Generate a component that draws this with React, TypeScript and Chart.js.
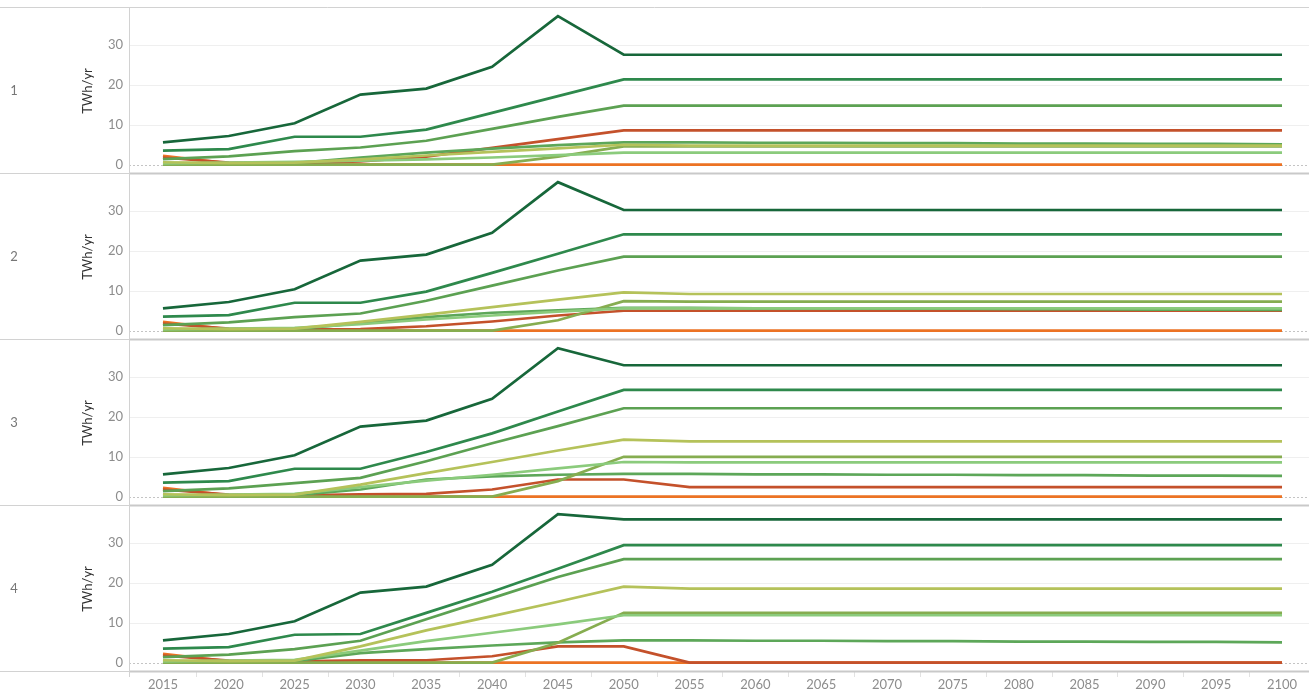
import React, { useEffect, useRef } from 'react';
import { Chart, registerables } from 'chart.js';

Chart.register(...registerables);

// ---------- data ----------
const years = [2015, 2020, 2025, 2030, 2035, 2040, 2045, 2050, 2055, 2060, 2065, 2070, 2075, 2080, 2085, 2090, 2095, 2100];
const yTickValues = [0, 10, 20, 30];
const panelLabels = ['1', '2', '3', '4'];
const axisTitle = 'TWh/yr';

// panel 1
const darkGreen1 = [5.6, 7.2, 10.4, 17.6, 19.1, 24.6, 37.3, 27.6, 27.6, 27.6, 27.6, 27.6, 27.6, 27.6, 27.6, 27.6, 27.6, 27.6];
const green2_1 = [3.5, 3.9, 7.0, 7.0, 8.8, 13.0, 17.2, 21.4, 21.4, 21.4, 21.4, 21.4, 21.4, 21.4, 21.4, 21.4, 21.4, 21.4];
const green3_1 = [1.4, 2.1, 3.4, 4.3, 6.0, 9.0, 12.0, 14.8, 14.8, 14.8, 14.8, 14.8, 14.8, 14.8, 14.8, 14.8, 14.8, 14.8];
const yellow_1 = [0.6, 0.4, 0.5, 1.3, 2.3, 3.2, 4.1, 5.0, 4.8, 4.8, 4.8, 4.8, 4.8, 4.8, 4.8, 4.8, 4.8, 4.8];
const lightGreen_1 = [0.3, 0.5, 0.7, 1.0, 1.3, 1.8, 2.4, 3.0, 3.0, 3.0, 3.0, 3.0, 3.0, 3.0, 3.0, 3.0, 3.0, 3.0];
const olive_1 = [0, 0, 0, 0, 0, 0, 2.0, 4.6, 4.6, 4.6, 4.6, 4.6, 4.6, 4.6, 4.6, 4.6, 4.6, 4.6];
const green4_1 = [0.2, 0.2, 0.4, 1.8, 3.0, 4.0, 4.9, 5.6, 5.6, 5.5, 5.5, 5.4, 5.4, 5.3, 5.3, 5.2, 5.2, 5.1];
const red_1 = [1.8, 0.5, 0.3, 0.8, 2.0, 4.2, 6.4, 8.6, 8.6, 8.6, 8.6, 8.6, 8.6, 8.6, 8.6, 8.6, 8.6, 8.6];
const orange_1 = [2.2, 0.3, 0, 0, 0, 0, 0, 0, 0, 0, 0, 0, 0, 0, 0, 0, 0, 0];

// panel 2
const darkGreen2 = [5.6, 7.2, 10.4, 17.6, 19.1, 24.6, 37.3, 30.3, 30.3, 30.3, 30.3, 30.3, 30.3, 30.3, 30.3, 30.3, 30.3, 30.3];
const green2_2 = [3.5, 3.9, 7.0, 7.0, 9.8, 14.5, 19.3, 24.2, 24.2, 24.2, 24.2, 24.2, 24.2, 24.2, 24.2, 24.2, 24.2, 24.2];
const green3_2 = [1.4, 2.1, 3.4, 4.3, 7.5, 11.3, 15.1, 18.6, 18.6, 18.6, 18.6, 18.6, 18.6, 18.6, 18.6, 18.6, 18.6, 18.6];
const yellow_2 = [0.6, 0.4, 0.5, 2.2, 4.0, 5.9, 7.8, 9.6, 9.2, 9.2, 9.2, 9.2, 9.2, 9.2, 9.2, 9.2, 9.2, 9.2];
const lightGreen_2 = [0.3, 0.5, 0.7, 1.6, 2.8, 3.8, 4.8, 5.6, 5.6, 5.6, 5.6, 5.6, 5.6, 5.6, 5.6, 5.6, 5.6, 5.6];
const olive_2 = [0, 0, 0, 0, 0, 0, 2.6, 7.4, 7.3, 7.3, 7.3, 7.3, 7.3, 7.3, 7.3, 7.3, 7.3, 7.3];
const green4_2 = [0.2, 0.2, 0.4, 1.9, 3.4, 4.5, 5.1, 5.7, 5.7, 5.6, 5.6, 5.5, 5.5, 5.4, 5.4, 5.3, 5.3, 5.2];
const red_2 = [1.8, 0.5, 0.3, 0.4, 1.1, 2.3, 3.8, 5.0, 5.0, 5.0, 5.0, 5.0, 5.0, 5.0, 5.0, 5.0, 5.0, 5.0];
const orange_2 = [2.2, 0.3, 0, 0, 0, 0, 0, 0, 0, 0, 0, 0, 0, 0, 0, 0, 0, 0];

// panel 3
const darkGreen3 = [5.6, 7.2, 10.4, 17.6, 19.1, 24.6, 37.3, 33.0, 33.0, 33.0, 33.0, 33.0, 33.0, 33.0, 33.0, 33.0, 33.0, 33.0];
const green2_3 = [3.5, 3.9, 7.0, 7.0, 11.2, 15.9, 21.4, 26.8, 26.8, 26.8, 26.8, 26.8, 26.8, 26.8, 26.8, 26.8, 26.8, 26.8];
const green3_3 = [1.4, 2.1, 3.4, 4.7, 8.9, 13.4, 17.7, 22.2, 22.2, 22.2, 22.2, 22.2, 22.2, 22.2, 22.2, 22.2, 22.2, 22.2];
const yellow_3 = [0.6, 0.4, 0.5, 3.0, 5.9, 8.7, 11.6, 14.3, 13.9, 13.9, 13.9, 13.9, 13.9, 13.9, 13.9, 13.9, 13.9, 13.9];
const lightGreen_3 = [0.3, 0.5, 0.7, 2.4, 4.0, 5.5, 7.1, 8.7, 8.6, 8.6, 8.6, 8.6, 8.6, 8.6, 8.6, 8.6, 8.6, 8.6];
const olive_3 = [0, 0, 0, 0, 0, 0, 3.9, 10.0, 10.0, 10.0, 10.0, 10.0, 10.0, 10.0, 10.0, 10.0, 10.0, 10.0];
const green4_3 = [0.2, 0.2, 0.4, 1.8, 4.3, 5.1, 5.5, 5.7, 5.7, 5.6, 5.6, 5.5, 5.5, 5.4, 5.4, 5.3, 5.3, 5.2];
const red_3 = [1.8, 0.5, 0.3, 0.6, 0.7, 1.8, 4.3, 4.3, 2.4, 2.4, 2.4, 2.4, 2.4, 2.4, 2.4, 2.4, 2.4, 2.4];
const orange_3 = [2.2, 0.3, 0, 0, 0, 0, 0, 0, 0, 0, 0, 0, 0, 0, 0, 0, 0, 0];

// panel 4
const darkGreen4 = [5.6, 7.2, 10.4, 17.6, 19.1, 24.6, 37.3, 36.0, 36.0, 36.0, 36.0, 36.0, 36.0, 36.0, 36.0, 36.0, 36.0, 36.0];
const green2_4 = [3.5, 3.9, 7.0, 7.2, 12.5, 17.8, 23.6, 29.5, 29.5, 29.5, 29.5, 29.5, 29.5, 29.5, 29.5, 29.5, 29.5, 29.5];
const green3_4 = [1.4, 2.0, 3.4, 5.5, 10.9, 16.2, 21.5, 26.0, 26.0, 26.0, 26.0, 26.0, 26.0, 26.0, 26.0, 26.0, 26.0, 26.0];
const yellow_4 = [0.6, 0.4, 0.5, 4.1, 8.1, 11.7, 15.3, 19.1, 18.6, 18.6, 18.6, 18.6, 18.6, 18.6, 18.6, 18.6, 18.6, 18.6];
const lightGreen_4 = [0.3, 0.5, 0.7, 3.0, 5.4, 7.5, 9.6, 11.9, 11.9, 11.9, 11.9, 11.9, 11.9, 11.9, 11.9, 11.9, 11.9, 11.9];
const olive_4 = [0, 0, 0, 0, 0, 0, 5.0, 12.5, 12.5, 12.5, 12.5, 12.5, 12.5, 12.5, 12.5, 12.5, 12.5, 12.5];
const green4_4 = [0.2, 0.2, 0.4, 2.4, 3.4, 4.3, 5.1, 5.6, 5.6, 5.5, 5.5, 5.4, 5.4, 5.3, 5.3, 5.2, 5.2, 5.1];
const red_4 = [1.8, 0.5, 0.3, 0.6, 0.6, 1.6, 4.1, 4.1, 0, 0, 0, 0, 0, 0, 0, 0, 0, 0];
const orange_4 = [2.2, 0.3, 0, 0, 0, 0, 0, 0, 0, 0, 0, 0, 0, 0, 0, 0, 0, 0];

// series colours (drawing order: first drawn on top)
const seriesColors = ['#17673a', '#2e894c', '#5ca152', '#b5c25a', '#8bcb7c', '#86ad50', '#5da759', '#c4512b', '#ec7324'];

const panels = [
  [darkGreen1, green2_1, green3_1, yellow_1, lightGreen_1, olive_1, green4_1, red_1, orange_1],
  [darkGreen2, green2_2, green3_2, yellow_2, lightGreen_2, olive_2, green4_2, red_2, orange_2],
  [darkGreen3, green2_3, green3_3, yellow_3, lightGreen_3, olive_3, green4_3, red_3, orange_3],
  [darkGreen4, green2_4, green3_4, yellow_4, lightGreen_4, olive_4, green4_4, red_4, orange_4],
];

const W = 1309;
const H = 693;
const AXIS_W = 129;
const TOP = 7;
const XAXIS_H = 22;
const FONT = 'Lato, "Open Sans", sans-serif';

export default function App() {
  const ref = useRef<HTMLCanvasElement>(null);

  useEffect(() => {
    if (!ref.current) return;
    const datasets: any[] = [];
    panels.forEach((series, p) => {
      series.forEach((vals, k) => {
        datasets.push({
          data: years.map((x, i) => ({ x, y: vals[i] })),
          borderColor: seriesColors[k],
          backgroundColor: seriesColors[k],
          borderWidth: 2.7,
          pointRadius: 0,
          tension: 0,
          fill: false,
          xAxisID: 'x',
          yAxisID: 'y' + p,
        });
      });
    });

    const yScale = () => ({
      type: 'linear',
      position: 'left',
      stack: 'rows',
      stackWeight: 1,
      min: -2.1,
      max: 39.6,
      afterBuildTicks: (s: any) => {
        s.ticks = yTickValues.map((v) => ({ value: v }));
      },
      afterFit: (s: any) => {
        s.width = AXIS_W;
        s.paddingTop = 0;
        s.paddingBottom = 0;
      },
      grid: { display: false, drawTicks: false },
      border: { display: false },
      ticks: {
        color: '#8d8d8d',
        font: { family: FONT, size: 13 },
        padding: 6,
        callback: (v: any) => String(v),
      },
    });

    const decor = {
      id: 'decor',
      beforeDatasetsDraw(chart: any) {
        const ctx = chart.ctx;
        const area = chart.chartArea;
        ctx.save();
        for (let p = 0; p < 4; p++) {
          const ys = chart.scales['y' + p];
          ctx.strokeStyle = '#efefef';
          ctx.lineWidth = 1;
          ctx.setLineDash([]);
          for (const v of [10, 20, 30]) {
            const y = Math.round(ys.getPixelForValue(v)) + 0.5;
            ctx.beginPath();
            ctx.moveTo(area.left, y);
            ctx.lineTo(area.right, y);
            ctx.stroke();
          }
          const y0 = Math.round(ys.getPixelForValue(0)) + 0.5;
          ctx.strokeStyle = '#c4c4c4';
          ctx.setLineDash([2, 2]);
          ctx.beginPath();
          ctx.moveTo(area.left, y0);
          ctx.lineTo(area.right, y0);
          ctx.stroke();
          ctx.setLineDash([]);
        }
        ctx.strokeStyle = '#d2d2d2';
        ctx.lineWidth = 1;
        ctx.beginPath();
        ctx.moveTo(0, area.top + 0.5);
        ctx.lineTo(W, area.top + 0.5);
        ctx.stroke();
        for (let p = 0; p < 4; p++) {
          const ys = chart.scales['y' + p];
          const yb = Math.round(ys.bottom);
          ctx.beginPath();
          ctx.moveTo(0, yb + 0.5);
          ctx.lineTo(area.left, yb + 0.5);
          ctx.stroke();
        }
        ctx.beginPath();
        ctx.moveTo(area.left + 0.5, area.top);
        ctx.lineTo(area.left + 0.5, area.bottom + 6);
        ctx.stroke();
        const xs = chart.scales.x;
        ctx.strokeStyle = '#e2e2e2';
        for (let i = 0; i < years.length - 1; i++) {
          const x = Math.round(xs.getPixelForValue((years[i] + years[i + 1]) / 2)) + 0.5;
          ctx.beginPath();
          ctx.moveTo(x, area.bottom);
          ctx.lineTo(x, area.bottom + 6);
          ctx.stroke();
        }
        ctx.restore();
      },
      afterDatasetsDraw(chart: any) {
        const ctx = chart.ctx;
        const area = chart.chartArea;
        ctx.save();
        for (let p = 0; p < 4; p++) {
          const ys = chart.scales['y' + p];
          const yb = Math.round(ys.bottom);
          ctx.fillStyle = '#c9c9c9';
          ctx.fillRect(area.left + 1, yb - 0.5, area.right - area.left, 2);
        }
        ctx.restore();
      },
      afterDraw(chart: any) {
        const ctx = chart.ctx;
        ctx.save();
        for (let p = 0; p < 4; p++) {
          const ys = chart.scales['y' + p];
          const cy = (ys.top + ys.bottom) / 2 + 1;
          ctx.font = '13px ' + FONT;
          ctx.fillStyle = '#777777';
          ctx.textAlign = 'center';
          ctx.textBaseline = 'middle';
          ctx.fillText(panelLabels[p], 14, cy);
          ctx.save();
          ctx.translate(88, cy);
          ctx.rotate(-Math.PI / 2);
          ctx.fillStyle = '#333333';
          ctx.fillText(axisTitle, 0, 0);
          ctx.restore();
        }
        ctx.restore();
      },
    };

    const scales: any = {
      x: {
        type: 'linear',
        position: 'bottom',
        min: 2012.42,
        max: 2102.05,
        afterBuildTicks: (s: any) => {
          s.ticks = years.map((v) => ({ value: v }));
        },
        afterFit: (s: any) => {
          s.height = XAXIS_H;
          s.paddingLeft = 0;
          s.paddingRight = 0;
        },
        grid: { display: false, drawTicks: false },
        border: { display: false },
        ticks: {
          color: '#8d8d8d',
          font: { family: FONT, size: 13 },
          padding: 6,
          maxRotation: 0,
          autoSkip: false,
          callback: (v: any) => String(v),
        },
      },
    };
    // stacked scales are placed bottom-up in definition order: define last panel first
    for (let p = 3; p >= 0; p--) scales['y' + p] = yScale();

    const chart = new Chart(ref.current, {
      type: 'line',
      data: { datasets },
      options: {
        animation: false,
        responsive: false,
        maintainAspectRatio: false,
        layout: { padding: { top: TOP, left: 0, right: 0, bottom: 0 } },
        plugins: { legend: { display: false }, tooltip: { enabled: false } },
        scales,
      } as any,
      plugins: [decor],
    });
    return () => chart.destroy();
  }, []);

  return (
    <div style={{ position: 'absolute', left: 0, top: 0, width: W, height: H, background: '#fff' }}>
      <canvas ref={ref} width={W} height={H} style={{ width: W, height: H, display: 'block' }} />
    </div>
  );
}
